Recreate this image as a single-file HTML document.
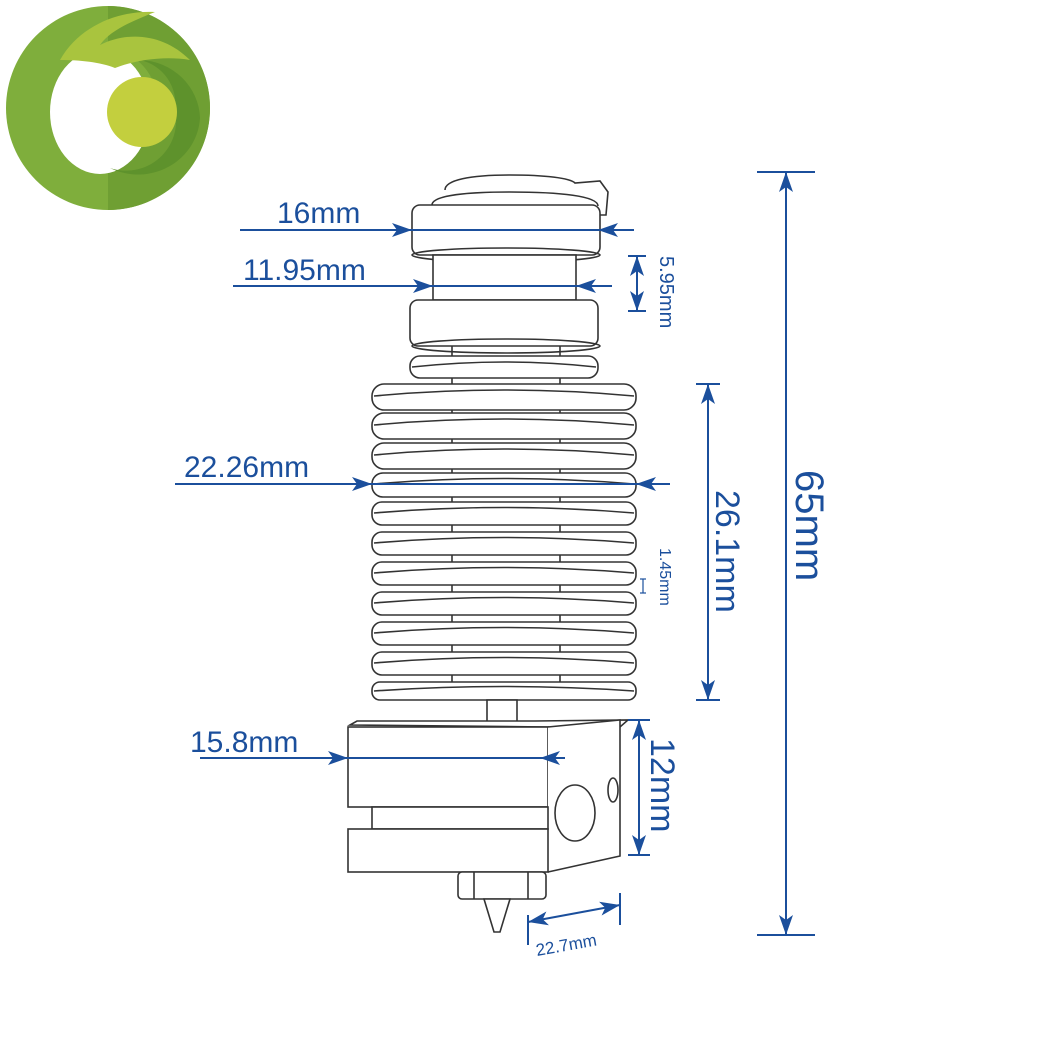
<!DOCTYPE html>
<html><head><meta charset="utf-8"><style>html,body{margin:0;padding:0;background:#fff}svg{display:block}</style></head>
<body>
<svg width="1060" height="1060" viewBox="0 0 1060 1060" xmlns="http://www.w3.org/2000/svg">
<defs>
<marker id="a" viewBox="0 0 20 14" refX="20" refY="7" markerWidth="20" markerHeight="14" orient="auto-start-reverse" markerUnits="userSpaceOnUse"><path d="M0,0 L20,7 L0,14 L5,7 Z" fill="#1b4f9c"/></marker>
</defs>
<!-- logo -->
<circle cx="108" cy="108" r="102" fill="#7fae3c"/>
<path d="M108,6 A102,102 0 0 1 210,108 A102,102 0 0 1 108,210 L108,160 A50,55 0 0 0 108,50 Z" fill="#6f9f33"/>
<ellipse cx="100" cy="112" rx="50" ry="62" fill="#fff"/>
<path d="M140,60 A62,60 0 0 1 200,118 A62,60 0 0 1 110,168 A50,50 0 0 0 175,110 A45,45 0 0 0 140,60 Z" fill="#5e922c"/>
<path d="M60,60 C80,25 120,10 155,12 C135,20 110,30 100,45 C130,30 165,35 190,60 C160,55 130,62 115,68 C100,62 80,60 60,60 Z" fill="#a9c43e"/>
<circle cx="142" cy="112" r="35" fill="#c3cf3e"/>
<g fill="none" stroke="#333" stroke-width="1.6">
<!-- top cap -->
<path d="M445,190 C445,180 470,175 510,175 C545,175 570,178 575,183 L600,181 L608,192 L606,215 L598,215"/>
<path d="M432,205 C432,195 470,192 510,192 C560,192 598,196 598,206"/>
<rect x="412" y="205" width="188" height="50" rx="8" fill="#fff"/>
<ellipse cx="506" cy="255" rx="94" ry="7"/>
<rect x="433" y="255" width="143" height="45" fill="#fff"/>
<rect x="410" y="300" width="188" height="46" rx="8" fill="#fff"/>
<ellipse cx="506" cy="346" rx="94" ry="7"/>
<line x1="452" y1="346" x2="452" y2="700"/><line x1="560" y1="346" x2="560" y2="700"/>
<rect x="410" y="356" width="188" height="22" rx="10" fill="#fff"/>
<path d="M412,367 Q506,357 596,367"/>
<g id="fins">
<rect x="372" y="384" width="264" height="26" rx="12" fill="#fff"/><path d="M374,396 Q504,384 634,396"/>
<rect x="372" y="413" width="264" height="26" rx="12" fill="#fff"/><path d="M374,425 Q504,413 634,425"/>
<rect x="372" y="443" width="264" height="26" rx="12" fill="#fff"/><path d="M374,455 Q504,443 634,455"/>
<rect x="372" y="473" width="264" height="24" rx="11" fill="#fff"/><path d="M374,484 Q504,473 634,484"/>
<rect x="372" y="502" width="264" height="23" rx="10" fill="#fff"/><path d="M374,513 Q504,502 634,513"/>
<rect x="372" y="532" width="264" height="23" rx="10" fill="#fff"/><path d="M374,543 Q504,532 634,543"/>
<rect x="372" y="562" width="264" height="23" rx="10" fill="#fff"/><path d="M374,573 Q504,562 634,573"/>
<rect x="372" y="592" width="264" height="23" rx="10" fill="#fff"/><path d="M374,603 Q504,592 634,603"/>
<rect x="372" y="622" width="264" height="23" rx="10" fill="#fff"/><path d="M374,633 Q504,622 634,633"/>
<rect x="372" y="652" width="264" height="23" rx="10" fill="#fff"/><path d="M374,663 Q504,652 634,663"/>
<rect x="372" y="682" width="264" height="18" rx="8" fill="#fff"/><path d="M374,691 Q504,682 634,691"/>
</g>
<rect x="487" y="700" width="30" height="22" fill="#fff"/>
<!-- heater block -->
<path d="M350,725 L357,721 L535,721 L628,720 L620,727 L548,727 Z" fill="#fff"/>
<rect x="348" y="727" width="200" height="80" fill="#fff"/>
<path d="M548,727 L620,720 L620,856 L548,872" fill="#fff"/>
<rect x="372" y="807" width="176" height="22" fill="#fff"/>
<rect x="348" y="829" width="200" height="43" fill="#fff"/>
<ellipse cx="575" cy="813" rx="20" ry="28" fill="#fff"/>
<ellipse cx="613" cy="790" rx="5" ry="12"/>
<!-- nozzle -->
<rect x="458" y="872" width="88" height="27" rx="4" fill="#fff"/>
<line x1="474" y1="872" x2="474" y2="899"/><line x1="528" y1="872" x2="528" y2="899"/>
<path d="M484,899 L510,899 L500,932 L494,932 Z" fill="#fff"/>
</g>
<!-- dimensions -->
<g stroke="#1b4f9c" stroke-width="2" fill="none">
<line x1="240" y1="230" x2="412" y2="230" marker-end="url(#a)"/>
<line x1="412" y1="230" x2="598" y2="230"/>
<line x1="634" y1="230" x2="598" y2="230" marker-end="url(#a)"/>
<line x1="233" y1="286" x2="433" y2="286" marker-end="url(#a)"/>
<line x1="433" y1="286" x2="576" y2="286"/>
<line x1="612" y1="286" x2="576" y2="286" marker-end="url(#a)"/>
<line x1="628" y1="256" x2="646" y2="256"/><line x1="628" y1="311" x2="646" y2="311"/>
<line x1="637" y1="256" x2="637" y2="311" marker-start="url(#a)" marker-end="url(#a)"/>
<line x1="175" y1="484" x2="372" y2="484" marker-end="url(#a)"/>
<line x1="372" y1="484" x2="636" y2="484"/>
<line x1="670" y1="484" x2="636" y2="484" marker-end="url(#a)"/>
<line x1="696" y1="384" x2="720" y2="384"/><line x1="696" y1="700" x2="720" y2="700"/>
<line x1="708" y1="384" x2="708" y2="700" marker-start="url(#a)" marker-end="url(#a)"/>
<line x1="640" y1="579" x2="646" y2="579" stroke-width="1.2"/><line x1="640" y1="593" x2="646" y2="593" stroke-width="1.2"/>
<line x1="643" y1="579" x2="643" y2="593" stroke-width="1.2"/>
<line x1="757" y1="172" x2="815" y2="172"/><line x1="757" y1="935" x2="815" y2="935"/>
<line x1="786" y1="172" x2="786" y2="935" marker-start="url(#a)" marker-end="url(#a)"/>
<line x1="200" y1="758" x2="348" y2="758" marker-end="url(#a)"/>
<line x1="348" y1="758" x2="540" y2="758"/>
<line x1="565" y1="758" x2="540" y2="758" marker-end="url(#a)"/>
<line x1="628" y1="720" x2="650" y2="720"/><line x1="628" y1="855" x2="650" y2="855"/>
<line x1="639" y1="720" x2="639" y2="855" marker-start="url(#a)" marker-end="url(#a)"/>
<line x1="528" y1="915" x2="528" y2="945"/><line x1="620" y1="893" x2="620" y2="925"/>
<line x1="528" y1="922" x2="620" y2="905" marker-start="url(#a)" marker-end="url(#a)"/>
</g>
<g fill="#1b4f9c" font-family="Liberation Sans, sans-serif">
<text x="277" y="223" font-size="30">16mm</text>
<text x="243" y="280" font-size="30">11.95mm</text>
<text x="184" y="477" font-size="30">22.26mm</text>
<text x="190" y="752" font-size="30">15.8mm</text>
<text transform="translate(660,256) rotate(90)" font-size="20">5.95mm</text>
<text transform="translate(660,548) rotate(90)" font-size="16">1.45mm</text>
<text transform="translate(716,490) rotate(90)" font-size="34">26.1mm</text>
<text transform="translate(796,470) rotate(90)" font-size="40">65mm</text>
<text transform="translate(651,738) rotate(90)" font-size="34">12mm</text>
<text transform="translate(537,956) rotate(-10)" font-size="17">22.7mm</text>
</g>
</svg>
</body></html>
